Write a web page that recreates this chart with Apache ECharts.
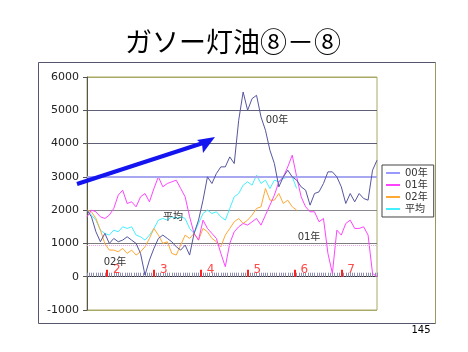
<!DOCTYPE html>
<html>
<head>
<meta charset="utf-8">
<script src="https://cdn.jsdelivr.net/npm/echarts/dist/echarts.min.js"></script>
<style>
  html, body { margin: 0; padding: 0; background: #fff; }
  #chart { width: 468px; height: 352px; }
</style>
</head>
<body>
<div id="chart"></div>
<script>
/* ガソー灯油 price spread, daily (every 2nd business day sampled) */

const seriesNames = ["00年", "01年", "02年", "平均"];
const monthLabels = ["2", "3", "4", "5", "6", "7"];
const monthStartDays = [9, 30, 51, 72, 93, 114];   // business-day index of each month start
const dayCount = 131;                              // business days on the tick axis
const yMin = -1000, yMax = 6000, yStep = 1000;

// values every 2nd business day
const y00 = [2000, 1800, 1350, 1050, 1300, 1000, 1150, 1050, 1100, 1200,
             1100, 1000, 700, 50, 500, 850, 1150, 1250, 1150, 1050,
             900, 800, 950, 650, 1300, 1700, 2300, 3000, 2800, 3100,
             3300, 3300, 3600, 3400, 4700, 5550, 5000, 5350, 5450, 4800,
             4400, 3800, 3400, 2700, 3000, 3200, 3000, 2900, 2700, 2600,
             2150, 2500, 2550, 2800, 3150, 3150, 3000, 2700, 2200, 2500,
             2250, 2500, 2350, 2300, 3200, 3500];
const y01 = [1800, 2000, 1950, 1800, 1750, 1850, 2050, 2450, 2600, 2200,
             2250, 2100, 2400, 2500, 2250, 2650, 3000, 2700, 2800, 2850,
             2900, 2650, 2400, 1800, 1300, 1100, 1700, 1450, 1300, 1150,
             700, 300, 1000, 1350, 1500, 1600, 1550, 1650, 1750, 1550,
             1850, 2150, 2450, 2850, 3000, 3300, 3650, 3000, 2400, 2100,
             1950, 1950, 1650, 1750, 700, 100, 1400, 1250, 1600, 1700,
             1450, 1450, 1500, 1250, 100, 0];
const y02 = [2000, 1950, 1750, 1400, 1000, 800, 800, 750, 850, 700,
             800, 650, 750, 900, 1150, 1450, 1250, 1000, 1050, 700,
             650, 950, 1250, 1150, 1300, 1100, 1450, 1350, 1150, 1050,
             900, 1250, 1450, 1650, 1750, 1600, 1700, 1850, 2050, 2100,
             2650, 2300, 2300, 2500, 2200, 2300, 2100, 2000];
const yAvg = [2000, 1850, 1700, 1400, 1300, 1250, 1400, 1350, 1500, 1450,
              1500, 1250, 1200, 1100, 1250, 1450, 1700, 1750, 1700, 1800,
              1750, 1800, 1750, 1450, 1300, 1600, 1900, 2000, 1900, 1950,
              1800, 1700, 2050, 2400, 2500, 2750, 2850, 2750, 3050, 2800,
              2900, 2650, 2900, 2850, 2950, 3000, 3000, 2650];

const dayCats = Array.from({ length: dayCount }, (_, i) => "d" + i);
const sampleCats = y00.map((_, i) => "s" + i);

const COLORS = { c00: "#5656a0", c01: "#ff44ff", c02: "#ffa834", avg: "#44f0ff" };
const FONT = "DejaVu Sans, Noto Sans CJK JP, sans-serif";

const GRID = { left: 87, top: 77, right: 91, bottom: 42 };
const plotHeight = 352 - GRID.top - GRID.bottom;
// second x axis can't use onZero, so shift it up to the zero line
const zeroOffset = -plotHeight * (0 - yMin) / (yMax - yMin);

const isMonthStart = (i) => monthStartDays.indexOf(i) >= 0;

const chart = echarts.init(document.getElementById("chart"), null, { renderer: "canvas" });

function lineSeries(name, data, color, z, extra) {
  return Object.assign({
    name: name,
    type: "line",
    xAxisIndex: 2,
    data: data,
    symbol: "none",
    showSymbol: false,
    smooth: false,
    lineStyle: { width: 1, color: color },
    itemStyle: { color: color },
    emphasis: { disabled: true },
    silent: true,
    z: z
  }, extra || {});
}

const option = {
  animation: false,
  backgroundColor: "#fff",

  grid: Object.assign({
    show: true,
    borderColor: "#aaaa66",
    borderWidth: 1,
    containLabel: false,
    outerBoundsMode: "none"
  }, GRID),

  xAxis: [
    { // small day ticks on the zero line
      type: "category",
      position: "bottom",
      data: dayCats,
      boundaryGap: false,
      axisLine: { show: true, onZero: true, lineStyle: { color: "#333", width: 1 } },
      axisTick: { show: true, inside: true, length: 4, interval: 0, lineStyle: { color: "#8c8cb4" } },
      axisLabel: { show: false },
      splitLine: { show: false }
    },
    { // red month ticks + month numbers
      type: "category",
      position: "bottom",
      offset: zeroOffset,
      data: dayCats,
      boundaryGap: false,
      axisLine: { show: false, onZero: false },
      axisTick: { show: true, inside: true, length: 7, interval: isMonthStart, lineStyle: { color: "#ff2020", width: 2 } },
      axisLabel: {
        show: true,
        inside: true,
        interval: isMonthStart,
        formatter: (v, idx) => {
          const k = monthStartDays.indexOf(idx);
          return k >= 0 ? monthLabels[k] : "";
        },
        color: "#ff4a4a",
        fontSize: 12,
        fontFamily: FONT,
        align: "left",
        padding: [0, 0, 0, 6],
        margin: 1
      },
      splitLine: { show: false }
    },
    { // data axis (hidden)
      type: "category",
      position: "bottom",
      data: sampleCats,
      boundaryGap: false,
      show: false
    }
  ],

  yAxis: {
    type: "value",
    min: yMin,
    max: yMax,
    interval: yStep,
    axisLine: { show: true, onZero: false, lineStyle: { color: "#555" } },
    axisTick: { show: true, length: 4, lineStyle: { color: "#555" } },
    axisLabel: { color: "#222", fontSize: 11, fontFamily: FONT, margin: 8, formatter: (v) => String(v) },
    splitLine: {
      show: true,
      lineStyle: {
        color: ["#aaaa66", "#333", "#7c7c7c", "#88888e", "#8a8ab0", "#5f5f78", "#5f5f78", "#aaaa66"],
        width: 1
      }
    }
  },

  legend: {
    orient: "vertical",
    left: 382,
    top: 165,
    padding: [3, 6, 3, 4],
    itemGap: 2,
    itemWidth: 14,
    itemHeight: 2,
    icon: "rect",
    borderColor: "#444",
    borderWidth: 1,
    backgroundColor: "#fff",
    textStyle: { fontSize: 10, color: "#333", fontFamily: FONT },
    data: [
      { name: seriesNames[0], itemStyle: { color: "#9999ff" } },
      { name: seriesNames[1], itemStyle: { color: COLORS.c01 } },
      { name: seriesNames[2], itemStyle: { color: COLORS.c02 } },
      { name: seriesNames[3], itemStyle: { color: COLORS.avg } }
    ]
  },

  series: [
    lineSeries(seriesNames[3], yAvg, COLORS.avg, 2, {
      markLine: {
        silent: true,
        symbol: "none",
        label: { show: false },
        data: [
          { yAxis: 3000, lineStyle: { color: "#a8a8f0", width: 2, type: "solid" } },
          { yAxis: 960, lineStyle: { color: "#f0a8f0", width: 1, type: "dotted" } }
        ]
      }
    }),
    lineSeries(seriesNames[2], y02, COLORS.c02, 3),
    lineSeries(seriesNames[1], y01, COLORS.c01, 4),
    lineSeries(seriesNames[0], y00, COLORS.c00, 5)
  ],

  graphic: [
    { // outer slide frame
      type: "rect",
      shape: { x: 38.5, y: 62.5, width: 397, height: 261 },
      style: { fill: "none", stroke: "#55556c", lineWidth: 1 },
      silent: true, z: 0
    },
    {
      type: "line",
      shape: { x1: 435.5, y1: 62.5, x2: 435.5, y2: 323.5 },
      style: { stroke: "#99995a", lineWidth: 1 },
      silent: true, z: 1
    },
    {
      type: "text",
      style: { text: "ガソー灯油⑧－⑧", x: 233, y: 42, textAlign: "center", textVerticalAlign: "middle",
               font: "27px 'Noto Sans CJK JP', sans-serif", fill: "#000" },
      silent: true
    },
    // blue arrow
    {
      type: "line",
      shape: { x1: 77, y1: 184, x2: 203, y2: 143 },
      style: { stroke: "#1414f0", lineWidth: 4 },
      silent: true, z: 20
    },
    {
      type: "polygon",
      shape: { points: [[215, 137], [197, 140], [202, 144], [203, 153]] },
      style: { fill: "#1414f0" },
      silent: true, z: 20
    },
    // series annotations
    { type: "text", style: { text: "00年", x: 277, y: 120, textAlign: "center", textVerticalAlign: "middle", font: "10px " + FONT, fill: "#333" }, z: 20, silent: true },
    { type: "text", style: { text: "平均", x: 173, y: 217, textAlign: "center", textVerticalAlign: "middle", font: "10px " + FONT, fill: "#333" }, z: 20, silent: true },
    { type: "text", style: { text: "01年", x: 309, y: 237, textAlign: "center", textVerticalAlign: "middle", font: "10px " + FONT, fill: "#333" }, z: 20, silent: true },
    { type: "text", style: { text: "02年", x: 115, y: 262, textAlign: "center", textVerticalAlign: "middle", font: "10px " + FONT, fill: "#333" }, z: 20, silent: true },
    // page number
    { type: "text", style: { text: "145", x: 421, y: 330, textAlign: "center", textVerticalAlign: "middle", font: "10px " + FONT, fill: "#000" }, silent: true }
  ]
};

chart.setOption(option, true);
</script>
</body>
</html>
